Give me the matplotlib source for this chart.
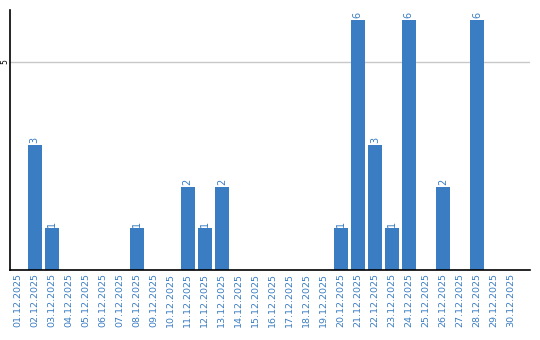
import matplotlib.pyplot as plt
plt.switch_backend('Agg')

dates = ['%02d.12.2025' % d for d in range(1, 31)]
counts = [0, 3, 1, 0, 0, 0, 0, 1, 0, 0,
          2, 1, 2, 0, 0, 0, 0, 0, 0, 1,
          6, 3, 1, 6, 0, 2, 0, 6, 0, 0]
yticks = [5]

blue = '#3a7dc2'

fig = plt.figure(figsize=(5.4, 3.4), dpi=100)
ax = fig.add_axes([0.0194, 0.2059, 0.963, 0.7647])

x = list(range(len(dates)))
ax.bar(x, counts, width=0.82, color=blue, zorder=2)
for xi, v in zip(x, counts):
    if v > 0:
        ax.text(xi, v + 0.04, str(v), rotation=90, ha='center', va='bottom',
                color=blue, fontsize=7)

ax.set_xlim(-0.42, 30.15)
ax.set_ylim(0, 6.24)
ax.set_xticks(x)
ax.set_xticklabels(dates, rotation=90, color=blue, fontsize=6.8)
ax.set_yticks(yticks)
ax.set_yticklabels([str(t) for t in yticks], rotation=90, va='center', fontsize=5.5)
ax.tick_params(axis='y', length=0, pad=1)
ax.tick_params(axis='x', length=0, pad=2)
ax.grid(axis='y', color='#c8c8c8', linewidth=1, zorder=1)
ax.spines['top'].set_visible(False)
ax.spines['right'].set_visible(False)
ax.spines['left'].set_linewidth(1.2)
ax.spines['bottom'].set_linewidth(1.2)

plt.savefig('out.png', dpi=100)
plt.close('all')
